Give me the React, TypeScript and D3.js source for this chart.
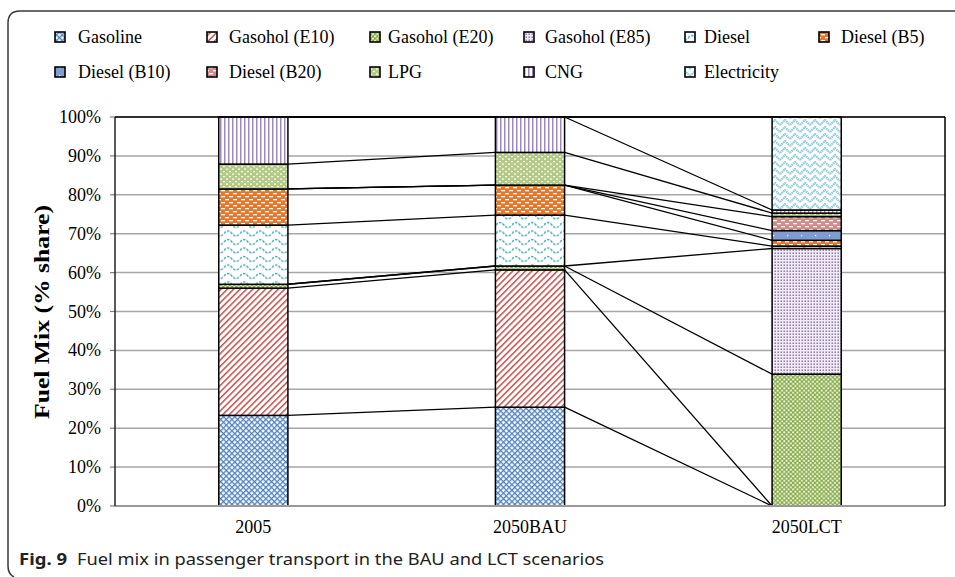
import React from "react";
import * as d3 from "d3";

const categories = ["2005", "2050BAU", "2050LCT"];
const seriesNames = [
  "Gasoline",
  "Gasohol (E10)",
  "Gasohol (E20)",
  "Gasohol (E85)",
  "Diesel",
  "Diesel (B5)",
  "Diesel (B10)",
  "Diesel (B20)",
  "LPG",
  "CNG",
  "Electricity",
];
const gasoline = [23.3, 25.4, 0];
const gasoholE10 = [32.7, 35.3, 0];
const gasoholE20 = [1.0, 1.0, 33.9];
const gasoholE85 = [0, 0, 32.3];
const diesel = [15.2, 13.1, 0.6];
const dieselB5 = [9.3, 7.7, 1.5];
const dieselB10 = [0, 0, 2.5];
const dieselB20 = [0, 0, 3.6];
const lpg = [6.4, 8.4, 0.9];
const cng = [12.1, 9.1, 0.8];
const electricity = [0, 0, 23.9];
const yTicks = [0, 10, 20, 30, 40, 50, 60, 70, 80, 90, 100];

const seriesValues = [
  gasoline, gasoholE10, gasoholE20, gasoholE85, diesel, dieselB5,
  dieselB10, dieselB20, lpg, cng, electricity,
];

const W = 955;
const H = 577;
const plot = { left: 115, right: 945, top: 117, bottom: 506 };

// legend layout: [column x of swatch, row]
const legendPos = [
  [55, 0], [207, 0], [370, 0], [524, 0], [685, 0], [819, 0],
  [55, 1], [207, 1], [370, 1], [524, 1], [685, 1],
];
const legendGap = [23, 22, 18, 21, 19, 22, 23, 22, 18, 21, 19];

function Patterns() {
  return (
    <defs>
      {/* Gasoline: blue diagonal lattice */}
      <pattern id="p0" width="4" height="4" patternUnits="userSpaceOnUse" patternTransform="rotate(45)">
        <rect width="4" height="4" fill="#ffffff" />
        <rect x="0" y="0" width="4" height="1.3" fill="#4f81bd" />
        <rect x="0" y="0" width="1.3" height="4" fill="#4f81bd" />
      </pattern>
      {/* E10: red upward diagonals */}
      <pattern id="p1" width="4.5" height="4.5" patternUnits="userSpaceOnUse" patternTransform="rotate(45)">
        <rect width="4.5" height="4.5" fill="#ffffff" />
        <rect x="0" y="0" width="1.5" height="4.5" fill="#c0504d" />
      </pattern>
      {/* E20: green checker */}
      <pattern id="p2" width="4.4" height="4.4" patternUnits="userSpaceOnUse">
        <rect width="4.4" height="4.4" fill="#86ab44" />
        <rect x="0.2" y="0.2" width="1.8" height="1.8" fill="#ffffff" />
        <rect x="2.4" y="2.4" width="1.8" height="1.8" fill="#ffffff" />
      </pattern>
      {/* E85: purple dots */}
      <pattern id="p3" width="3" height="3" patternUnits="userSpaceOnUse">
        <rect width="3" height="3" fill="#f1edf6" />
        <rect x="0.5" y="0.5" width="1.4" height="1.4" fill="#8064a2" />
      </pattern>
      {/* Diesel: teal dashed waves */}
      <pattern id="p4" width="16" height="8.5" patternUnits="userSpaceOnUse">
        <rect width="16" height="8.5" fill="#ffffff" />
        <path d="M0,4 Q4,-1 8,4 Q12,9 16,4" fill="none" stroke="#4bacc6" strokeWidth="1.4" strokeDasharray="2.6 1.2" />
      </pattern>
      {/* B5: orange with white dashes */}
      <pattern id="p5" width="8" height="6" patternUnits="userSpaceOnUse">
        <rect width="8" height="6" fill="#e3782f" />
        <rect x="1" y="1" width="4" height="1.3" fill="#ffffff" />
        <rect x="5" y="4" width="3" height="1.3" fill="#ffffff" />
        <rect x="0" y="4" width="1" height="1.3" fill="#ffffff" />
      </pattern>
      {/* B10: blue with sparse white dots */}
      <pattern id="p6" width="14" height="8" patternUnits="userSpaceOnUse">
        <rect width="14" height="8" fill="#7f9dd0" />
        <rect x="3" y="3" width="1.2" height="1.2" fill="#ffffff" />
      </pattern>
      {/* B20: pink with white dashes */}
      <pattern id="p7" width="8" height="6" patternUnits="userSpaceOnUse">
        <rect width="8" height="6" fill="#d28b89" />
        <rect x="1" y="1" width="4" height="1.3" fill="#ffffff" />
        <rect x="5" y="4" width="3" height="1.3" fill="#ffffff" />
        <rect x="0" y="4" width="1" height="1.3" fill="#ffffff" />
      </pattern>
      {/* LPG: light green with white dots */}
      <pattern id="p8" width="6" height="5" patternUnits="userSpaceOnUse">
        <rect width="6" height="5" fill="#b4cb87" />
        <rect x="1" y="1" width="2" height="1.2" fill="#ffffff" />
        <rect x="4" y="3.5" width="2" height="1.2" fill="#ffffff" />
      </pattern>
      {/* CNG: purple vertical lines */}
      <pattern id="p9" width="4" height="4" patternUnits="userSpaceOnUse">
        <rect width="4" height="4" fill="#ffffff" />
        <rect x="0" y="0" width="1.5" height="4" fill="#9d89bd" />
      </pattern>
      {/* Electricity: light-blue trellis chevrons */}
      <pattern id="p10" width="10" height="7" patternUnits="userSpaceOnUse">
        <rect width="10" height="7" fill="#ffffff" />
        <path d="M0,6 L5,1 L10,6" fill="none" stroke="#94cddc" strokeWidth="2.2" strokeDasharray="1.6 0.6" />
        <path d="M-5,1 L0,6 M10,6 L15,1" fill="none" stroke="#94cddc" strokeWidth="1" />
      </pattern>
    </defs>
  );
}

export default function App() {
  const table = categories.map((c, i) => {
    const row: Record<string, any> = { category: c };
    seriesNames.forEach((s, k) => (row[s] = seriesValues[k][i]));
    return row;
  });
  const stacked = d3.stack<any>().keys(seriesNames)(table);

  const x = d3
    .scaleBand<string>()
    .domain(categories)
    .range([plot.left, plot.right])
    .paddingInner(0.75)
    .paddingOuter(0.375);
  const y = d3.scaleLinear().domain([0, 100]).range([plot.bottom, plot.top]);
  const bw = x.bandwidth();

  const serif = "'Liberation Serif', 'Times New Roman', serif";

  return (
    <svg width={W} height={H} style={{ display: "block", position: "absolute", left: 0, top: 0 }}>
      <Patterns />
      <rect width={W} height={H} fill="#ffffff" />
      {/* figure frame */}
      <path d="M955,11 H20 Q8,11 8,23 V566 Q8,574 14,577" fill="none" stroke="#3a3a3a" strokeWidth="1.5" />

      {/* legend */}
      {seriesNames.map((s, k) => {
        const [lx, row] = legendPos[k];
        const ly = row === 0 ? 37 : 72;
        return (
          <g key={s}>
            <rect x={lx} y={ly - 5} width={10} height={10} fill={`url(#p${k})`} stroke="#000" strokeWidth={1.6} />
            <text x={lx + legendGap[k]} y={ly + 6} fontFamily={serif} fontSize={18} fill="#000">
              {s}
            </text>
          </g>
        );
      })}

      {/* gridlines */}
      {yTicks.map((t) => (
        <line key={t} x1={plot.left} x2={plot.right} y1={y(t)} y2={y(t)} stroke="#a6a6a6" strokeWidth={1.5} />
      ))}
      {/* tick marks and labels */}
      {yTicks.map((t) => (
        <g key={"t" + t}>
          <line x1={plot.left - 5} x2={plot.left} y1={y(t)} y2={y(t)} stroke="#808080" strokeWidth={1.2} />
          <text x={101} y={y(t) + 6} textAnchor="end" fontFamily={serif} fontSize={18} fill="#000">
            {t}%
          </text>
        </g>
      ))}

      {/* bars */}
      {stacked.map((layer, k) => (
        <g key={layer.key}>
          {layer.map((d, i) => (
            <rect
              key={i}
              x={x(categories[i])!}
              y={y(d[1])}
              width={bw}
              height={Math.max(0, y(d[0]) - y(d[1]))}
              fill={`url(#p${k})`}
              stroke="#000"
              strokeWidth={1.5}
            />
          ))}
        </g>
      ))}

      {/* series lines */}
      {stacked.map((layer) =>
        layer.slice(0, -1).map((d, i) => (
          <line
            key={layer.key + i}
            x1={x(categories[i])! + bw}
            y1={y(d[1])}
            x2={x(categories[i + 1])!}
            y2={y(layer[i + 1][1])}
            stroke="#000"
            strokeWidth={1.3}
          />
        ))
      )}

      {/* axes / plot border */}
      <line x1={plot.left} x2={plot.right} y1={plot.bottom} y2={plot.bottom} stroke="#999" strokeWidth={2} />
      <line x1={plot.left} x2={plot.right} y1={plot.top} y2={plot.top} stroke="#000" strokeWidth={1.5} />
      <line x1={plot.right} x2={plot.right} y1={plot.top} y2={plot.bottom} stroke="#000" strokeWidth={1.5} />
      <line x1={plot.left} x2={plot.left} y1={plot.top} y2={plot.bottom} stroke="#222" strokeWidth={1.5} />

      {/* category labels */}
      {categories.map((c) => (
        <text key={c} x={x(c)! + bw / 2} y={533} textAnchor="middle" fontFamily={serif} fontSize={18} fill="#000">
          {c}
        </text>
      ))}

      {/* y-axis title */}
      <text
        transform={`translate(49, 312) rotate(-90)`}
        textAnchor="middle"
        fontFamily={serif}
        fontWeight="bold"
        fontSize={22}
        textLength={214}
        lengthAdjust="spacingAndGlyphs"
        fill="#000"
      >
        Fuel Mix (% share)
      </text>

      {/* caption */}
      <text x={19} y={565} fontFamily="'Noto Sans', 'Open Sans', sans-serif" fontSize={16} fill="#222">
        <tspan fontWeight="bold" textLength={48} lengthAdjust="spacingAndGlyphs">Fig. 9</tspan>
        <tspan x={77} textLength={527} lengthAdjust="spacingAndGlyphs">
          Fuel mix in passenger transport in the BAU and LCT scenarios
        </tspan>
      </text>
    </svg>
  );
}
